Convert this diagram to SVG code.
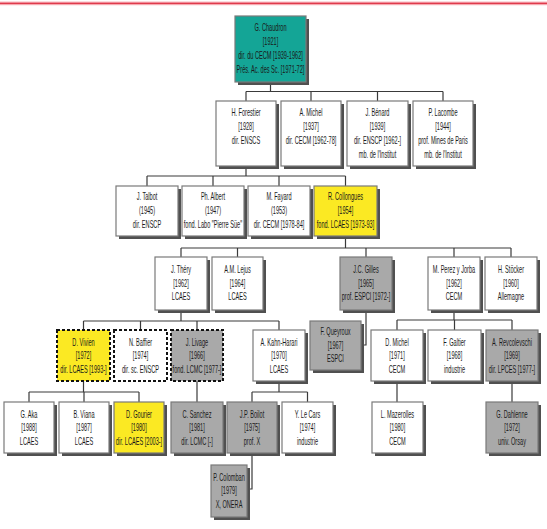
<svg xmlns="http://www.w3.org/2000/svg" width="547" height="529" viewBox="0 0 547 529">
<style>
.bg{fill:#ffffff}
.sh{fill:#505050}
.box{stroke:#7a7a7a;stroke-width:1.2}
.w{fill:#ffffff}
.g{fill:#a9a9a9}
.y{fill:#fbe923}
.teal{fill:#14a596}
.dash{stroke:#111;stroke-width:2;stroke-dasharray:3 2}
.t{font-family:"Liberation Sans",Arial,sans-serif;font-size:10px;fill:#1a1a1a;text-anchor:middle}
.c line,.c polyline{stroke:#3a3a3a;stroke-width:1.2;fill:none}
</style>
<rect class="bg" x="0" y="0" width="547" height="529"/>
<rect x="0" y="1.6" width="547" height="3.6" fill="#f6a9b0"/>
<line x1="0" y1="3.4" x2="547" y2="3.4" stroke="#df3b4c" stroke-width="1.3"/>

<g id="connectors" class="c">
<line x1="270.5" y1="82" x2="270.5" y2="91.5"/>
<line x1="246" y1="91.5" x2="443" y2="91.5"/>
<line x1="246" y1="91.5" x2="246" y2="101"/>
<line x1="311" y1="91.5" x2="311" y2="101"/>
<line x1="377.5" y1="91.5" x2="377.5" y2="101"/>
<line x1="443" y1="91.5" x2="443" y2="101"/>

<line x1="246" y1="166" x2="246" y2="176"/>
<line x1="147" y1="176" x2="345.5" y2="176"/>
<line x1="147" y1="176" x2="147" y2="186"/>
<line x1="213" y1="176" x2="213" y2="186"/>
<line x1="279" y1="176" x2="279" y2="186"/>
<line x1="345.5" y1="176" x2="345.5" y2="186"/>

<line x1="345.5" y1="236" x2="345.5" y2="248"/>
<line x1="181" y1="248" x2="511" y2="248"/>
<line x1="181" y1="248" x2="181" y2="257"/>
<line x1="237.5" y1="248" x2="237.5" y2="257"/>
<line x1="366" y1="248" x2="366" y2="257"/>
<line x1="454" y1="248" x2="454" y2="257"/>
<line x1="511" y1="248" x2="511" y2="257"/>

<line x1="181" y1="310" x2="181" y2="321"/>
<line x1="83.5" y1="321" x2="279" y2="321"/>
<line x1="83.5" y1="321" x2="83.5" y2="330"/>
<line x1="140.5" y1="321" x2="140.5" y2="330"/>
<line x1="197" y1="321" x2="197" y2="330"/>
<line x1="279" y1="321" x2="279" y2="330"/>

<polyline points="366,310 366,345 361,345"/>

<line x1="454" y1="310" x2="454" y2="320"/>
<line x1="397" y1="320" x2="512" y2="320"/>
<line x1="397" y1="320" x2="397" y2="330"/>
<line x1="454.5" y1="320" x2="454.5" y2="330"/>
<line x1="512" y1="320" x2="512" y2="330"/>

<line x1="83.5" y1="381" x2="83.5" y2="392"/>
<line x1="29" y1="392" x2="139" y2="392"/>
<line x1="29" y1="392" x2="29" y2="402"/>
<line x1="84" y1="392" x2="84" y2="402"/>
<line x1="139" y1="392" x2="139" y2="402"/>

<line x1="197" y1="381" x2="197" y2="402"/>

<line x1="279" y1="381" x2="279" y2="392"/>
<line x1="252" y1="392" x2="307.5" y2="392"/>
<line x1="252" y1="392" x2="252" y2="402"/>
<line x1="307.5" y1="392" x2="307.5" y2="402"/>

<line x1="397" y1="381" x2="397" y2="402"/>
<line x1="512" y1="381" x2="512" y2="402"/>

<polyline points="252,453 252,489 247,489"/>
</g>

<g id="n-chaudron">
<rect class="sh" x="238" y="19" width="71" height="66"/>
<rect class="box teal" x="235" y="16" width="71" height="66"/>
<text class="t" transform="translate(270.5 0) scale(0.56 1)"><tspan x="0" y="31.5">G. Chaudron</tspan><tspan x="0" y="45.5">[1921]</tspan><tspan x="0" y="59.5">dir. du CECM [1939-1962]</tspan><tspan x="0" y="73.5">Prés. Ac. des Sc. [1971-72]</tspan></text>
</g>

<g id="n-forestier">
<rect class="sh" x="219" y="104" width="60" height="65"/>
<rect class="box w" x="216" y="101" width="60" height="65"/>
<text class="t" transform="translate(246 0) scale(0.56 1)"><tspan x="0" y="116.5">H. Forestier</tspan><tspan x="0" y="130.5">[1928]</tspan><tspan x="0" y="144.5">dir. ENSCS</tspan></text>
</g>
<g id="n-amichel">
<rect class="sh" x="284" y="104" width="60" height="65"/>
<rect class="box w" x="281" y="101" width="60" height="65"/>
<text class="t" transform="translate(311 0) scale(0.56 1)"><tspan x="0" y="116.5">A. Michel</tspan><tspan x="0" y="130.5">[1937]</tspan><tspan x="0" y="144.5">dir. CECM [1962-78]</tspan></text>
</g>
<g id="n-benard">
<rect class="sh" x="350" y="104" width="61" height="65"/>
<rect class="box w" x="347" y="101" width="61" height="65"/>
<text class="t" transform="translate(377.5 0) scale(0.56 1)"><tspan x="0" y="116.5">J. Bénard</tspan><tspan x="0" y="130.5">[1939]</tspan><tspan x="0" y="144.5">dir. ENSCP [1962-]</tspan><tspan x="0" y="158.5">mb. de l'Institut</tspan></text>
</g>
<g id="n-lacombe">
<rect class="sh" x="416" y="104" width="60" height="65"/>
<rect class="box w" x="413" y="101" width="60" height="65"/>
<text class="t" transform="translate(443 0) scale(0.56 1)"><tspan x="0" y="116.5">P. Lacombe</tspan><tspan x="0" y="130.5">[1944]</tspan><tspan x="0" y="144.5">prof. Mines de Paris</tspan><tspan x="0" y="158.5">mb. de l'Institut</tspan></text>
</g>

<g id="n-talbot">
<rect class="sh" x="119" y="189" width="62" height="50"/>
<rect class="box w" x="116" y="186" width="62" height="50"/>
<text class="t" transform="translate(147 0) scale(0.56 1)"><tspan x="0" y="200.5">J. Talbot</tspan><tspan x="0" y="214.3">(1945)</tspan><tspan x="0" y="228.1">dir. ENSCP</tspan></text>
</g>
<g id="n-albert">
<rect class="sh" x="185" y="189" width="62" height="50"/>
<rect class="box w" x="182" y="186" width="62" height="50"/>
<text class="t" transform="translate(213 0) scale(0.56 1)"><tspan x="0" y="200.5">Ph. Albert</tspan><tspan x="0" y="214.3">(1947)</tspan><tspan x="0" y="228.1">fond. Labo "Pierre Süe"</tspan></text>
</g>
<g id="n-fayard">
<rect class="sh" x="251" y="189" width="62" height="50"/>
<rect class="box w" x="248" y="186" width="62" height="50"/>
<text class="t" transform="translate(279 0) scale(0.56 1)"><tspan x="0" y="200.5">M. Fayard</tspan><tspan x="0" y="214.3">(1953)</tspan><tspan x="0" y="228.1">dir. CECM [1978-84]</tspan></text>
</g>
<g id="n-collongues">
<rect class="sh" x="317" y="189" width="63" height="50"/>
<rect class="box y" x="314" y="186" width="63" height="50"/>
<text class="t" transform="translate(345.5 0) scale(0.56 1)"><tspan x="0" y="200.5">R. Collongues</tspan><tspan x="0" y="214.3">[1954]</tspan><tspan x="0" y="228.1">fond. LCAES [1973-93]</tspan></text>
</g>

<g id="n-thery">
<rect class="sh" x="158" y="260" width="52" height="53"/>
<rect class="box w" x="155" y="257" width="52" height="53"/>
<text class="t" transform="translate(181 0) scale(0.56 1)"><tspan x="0" y="273.5">J. Théry</tspan><tspan x="0" y="287">[1962]</tspan><tspan x="0" y="300.5">LCAES</tspan></text>
</g>
<g id="n-lejus">
<rect class="sh" x="215" y="260" width="51" height="53"/>
<rect class="box w" x="212" y="257" width="51" height="53"/>
<text class="t" transform="translate(237.5 0) scale(0.56 1)"><tspan x="0" y="273.5">A.M. Lejus</tspan><tspan x="0" y="287">[1964]</tspan><tspan x="0" y="300.5">LCAES</tspan></text>
</g>
<g id="n-gilles">
<rect class="sh" x="343" y="260" width="52" height="53"/>
<rect class="box g" x="340" y="257" width="52" height="53"/>
<text class="t" transform="translate(366 0) scale(0.56 1)"><tspan x="0" y="273.5">J.C. Gilles</tspan><tspan x="0" y="287">[1965]</tspan><tspan x="0" y="300.5">prof. ESPCI [1972-]</tspan></text>
</g>
<g id="n-perez">
<rect class="sh" x="431" y="260" width="52" height="53"/>
<rect class="box w" x="428" y="257" width="52" height="53"/>
<text class="t" transform="translate(454 0) scale(0.56 1)"><tspan x="0" y="273.5">M. Perez y Jorba</tspan><tspan x="0" y="287">[1962]</tspan><tspan x="0" y="300.5">CECM</tspan></text>
</g>
<g id="n-stocker">
<rect class="sh" x="488" y="260" width="52" height="53"/>
<rect class="box w" x="485" y="257" width="52" height="53"/>
<text class="t" transform="translate(511 0) scale(0.56 1)"><tspan x="0" y="273.5">H. Stöcker</tspan><tspan x="0" y="287">[1960]</tspan><tspan x="0" y="300.5">Allemagne</tspan></text>
</g>

<g id="n-vivien">
<rect class="box y dash" x="57" y="330" width="53" height="51"/>
<text class="t" transform="translate(83.5 0) scale(0.56 1)"><tspan x="0" y="346">D. Vivien</tspan><tspan x="0" y="359.5">[1972]</tspan><tspan x="0" y="373">dir. LCAES [1993-]</tspan></text>
</g>
<g id="n-baffier">
<rect class="box w dash" x="114" y="330" width="53" height="51"/>
<text class="t" transform="translate(140.5 0) scale(0.56 1)"><tspan x="0" y="346">N. Baffier</tspan><tspan x="0" y="359.5">[1974]</tspan><tspan x="0" y="373">dir. sc. ENSCP</tspan></text>
</g>
<g id="n-livage">
<rect class="box g dash" x="171" y="330" width="52" height="51"/>
<text class="t" transform="translate(197 0) scale(0.56 1)"><tspan x="0" y="346">J. Livage</tspan><tspan x="0" y="359.5">[1966]</tspan><tspan x="0" y="373">fond. LCMC [1977-]</tspan></text>
</g>
<g id="n-kahn">
<rect class="sh" x="256" y="333" width="52" height="51"/>
<rect class="box w" x="253" y="330" width="52" height="51"/>
<text class="t" transform="translate(279 0) scale(0.56 1)"><tspan x="0" y="346">A. Kahn-Harari</tspan><tspan x="0" y="359.5">[1970]</tspan><tspan x="0" y="373">LCAES</tspan></text>
</g>
<g id="n-queyroux">
<rect class="sh" x="313" y="324" width="51" height="49"/>
<rect class="box g" x="310" y="321" width="51" height="49"/>
<text class="t" transform="translate(335.5 0) scale(0.56 1)"><tspan x="0" y="335.5">F. Queyroux</tspan><tspan x="0" y="349">[1967]</tspan><tspan x="0" y="362.5">ESPCI</tspan></text>
</g>
<g id="n-dmichel">
<rect class="sh" x="374" y="333" width="52" height="51"/>
<rect class="box w" x="371" y="330" width="52" height="51"/>
<text class="t" transform="translate(397 0) scale(0.56 1)"><tspan x="0" y="346">D. Michel</tspan><tspan x="0" y="359.5">[1971]</tspan><tspan x="0" y="373">CECM</tspan></text>
</g>
<g id="n-galtier">
<rect class="sh" x="431" y="333" width="53" height="51"/>
<rect class="box w" x="428" y="330" width="53" height="51"/>
<text class="t" transform="translate(454.5 0) scale(0.56 1)"><tspan x="0" y="346">F. Galtier</tspan><tspan x="0" y="359.5">[1968]</tspan><tspan x="0" y="373">industrie</tspan></text>
</g>
<g id="n-revcolevschi">
<rect class="sh" x="489" y="333" width="52" height="51"/>
<rect class="box g" x="486" y="330" width="52" height="51"/>
<text class="t" transform="translate(512 0) scale(0.56 1)"><tspan x="0" y="346">A. Revcolevschi</tspan><tspan x="0" y="359.5">[1969]</tspan><tspan x="0" y="373">dir. LPCES [1977-]</tspan></text>
</g>

<g id="n-aka">
<rect class="sh" x="7" y="405" width="50" height="51"/>
<rect class="box w" x="4" y="402" width="50" height="51"/>
<text class="t" transform="translate(29 0) scale(0.56 1)"><tspan x="0" y="418">G. Aka</tspan><tspan x="0" y="431.5">[1988]</tspan><tspan x="0" y="445">LCAES</tspan></text>
</g>
<g id="n-viana">
<rect class="sh" x="62" y="405" width="50" height="51"/>
<rect class="box w" x="59" y="402" width="50" height="51"/>
<text class="t" transform="translate(84 0) scale(0.56 1)"><tspan x="0" y="418">B. Viana</tspan><tspan x="0" y="431.5">[1987]</tspan><tspan x="0" y="445">LCAES</tspan></text>
</g>
<g id="n-gourier">
<rect class="sh" x="117" y="405" width="50" height="51"/>
<rect class="box y" x="114" y="402" width="50" height="51"/>
<text class="t" transform="translate(139 0) scale(0.56 1)"><tspan x="0" y="418">D. Gourier</tspan><tspan x="0" y="431.5">[1980]</tspan><tspan x="0" y="445">dir. LCAES [2003-]</tspan></text>
</g>
<g id="n-sanchez">
<rect class="sh" x="174" y="405" width="52" height="51"/>
<rect class="box g" x="171" y="402" width="52" height="51"/>
<text class="t" transform="translate(197 0) scale(0.56 1)"><tspan x="0" y="418">C. Sanchez</tspan><tspan x="0" y="431.5">[1981]</tspan><tspan x="0" y="445">dir. LCMC [-]</tspan></text>
</g>
<g id="n-boilot">
<rect class="sh" x="230" y="405" width="50" height="51"/>
<rect class="box g" x="227" y="402" width="50" height="51"/>
<text class="t" transform="translate(252 0) scale(0.56 1)"><tspan x="0" y="418">J.P. Boilot</tspan><tspan x="0" y="431.5">[1975]</tspan><tspan x="0" y="445">prof. X</tspan></text>
</g>
<g id="n-lecars">
<rect class="sh" x="285" y="405" width="51" height="51"/>
<rect class="box w" x="282" y="402" width="51" height="51"/>
<text class="t" transform="translate(307.5 0) scale(0.56 1)"><tspan x="0" y="418">Y. Le Cars</tspan><tspan x="0" y="431.5">[1974]</tspan><tspan x="0" y="445">industrie</tspan></text>
</g>
<g id="n-mazerolles">
<rect class="sh" x="375" y="405" width="51" height="51"/>
<rect class="box w" x="372" y="402" width="51" height="51"/>
<text class="t" transform="translate(397.5 0) scale(0.56 1)"><tspan x="0" y="418">L. Mazerolles</tspan><tspan x="0" y="431.5">[1980]</tspan><tspan x="0" y="445">CECM</tspan></text>
</g>
<g id="n-dahlenne">
<rect class="sh" x="489" y="405" width="52" height="51"/>
<rect class="box g" x="486" y="402" width="52" height="51"/>
<text class="t" transform="translate(512 0) scale(0.56 1)"><tspan x="0" y="418">G. Dahlenne</tspan><tspan x="0" y="431.5">[1972]</tspan><tspan x="0" y="445">univ. Orsay</tspan></text>
</g>

<g id="n-colomban">
<rect class="sh" x="214" y="468" width="36" height="52"/>
<rect class="box g" x="211" y="465" width="36" height="52"/>
<text class="t" transform="translate(229 0) scale(0.56 1)"><tspan x="0" y="481">P. Colomban</tspan><tspan x="0" y="494.5">[1979]</tspan><tspan x="0" y="508">X, ONERA</tspan></text>
</g>
</svg>
